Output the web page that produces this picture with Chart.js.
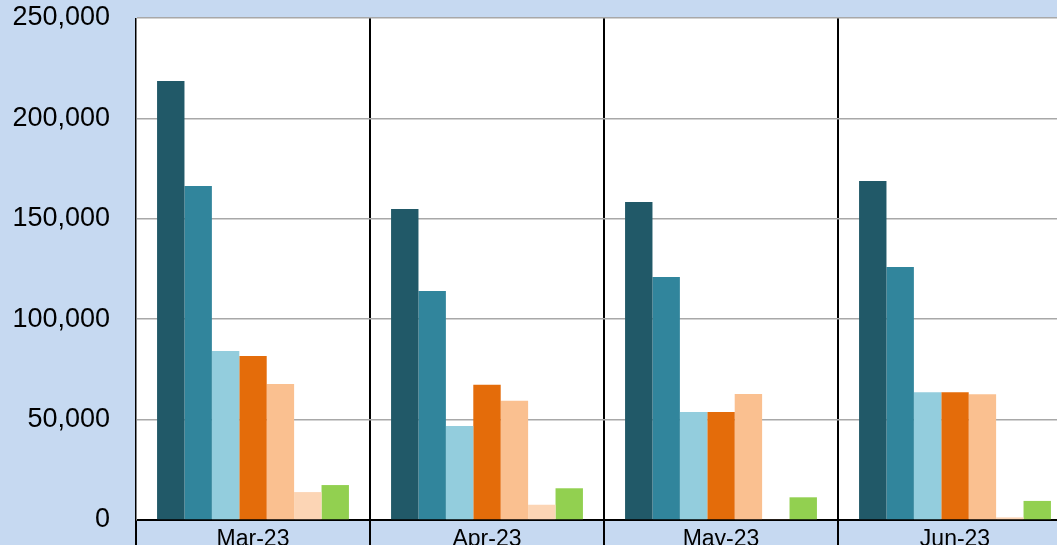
<!DOCTYPE html>
<html>
<head>
<meta charset="utf-8">
<script src="https://cdn.jsdelivr.net/npm/chart.js@4"></script>
<style>
  html, body { margin: 0; padding: 0; overflow: hidden; background: #c6d9f1; }
  #grap { position: absolute; left: 0; top: 0; }
</style>
</head>
<body>
<canvas id="grap" width="1100" height="590"></canvas>
<script>
const meses = ["Mar-23", "Apr-23", "May-23", "Jun-23"]

const serie1 = [218600, 154900, 158400, 168800]
const serie2 = [166300, 114000, 121000, 126000]
const serie3 = [84200, 46800, 53800, 63600]
const serie4 = [81700, 67400, 53800, 63600]
const serie5 = [67700, 59400, 62700, 62600]
const serie6 = [13900, 7600, 300, 1300]
const serie7 = [17400, 15800, 11300, 9500]

const cores = ["#215968", "#31859c", "#93cddd", "#e46c0a", "#fac090", "#fcd5b5", "#92d050"]
const series = [serie1, serie2, serie3, serie4, serie5, serie6, serie7]

const fundo = {
    id: 'fundo',
    beforeDraw(chart) {
        const {ctx, chartArea} = chart
        ctx.save()
        ctx.fillStyle = '#ffffff'
        ctx.fillRect(chartArea.left, chartArea.top, chartArea.right - chartArea.left, chartArea.bottom - chartArea.top)
        ctx.restore()
    }
}

function criarGraf() {
    const ctx = document.getElementById('grap').getContext('2d')

    new Chart(ctx, {
        type: 'bar',
        data: {
            labels: meses,
            datasets: series.map((s, i) => ({
                label: "Série " + (i + 1),
                data: s,
                backgroundColor: cores[i],
                borderWidth: 0,
                categoryPercentage: 0.82,
                barPercentage: 1.0
            }))
        },
        options: {
            responsive: false,
            maintainAspectRatio: false,
            animation: false,
            layout: {
                padding: { top: 18, right: 28, left: 0, bottom: 0 }
            },
            plugins: {
                legend: { display: false },
                tooltip: { enabled: false }
            },
            scales: {
                x: {
                    grid: {
                        offset: true,
                        color: '#000000',
                        lineWidth: 2,
                        drawTicks: true,
                        tickLength: 60
                    },
                    border: { color: '#000000', width: 2 },
                    ticks: {
                        color: '#000000',
                        padding: -54,
                        font: { family: "'Liberation Sans', Arial, sans-serif", size: 23 }
                    },
                    afterFit(axis) { axis.height = 70 }
                },
                y: {
                    min: 0,
                    max: 250000,
                    grid: {
                        color: '#a8a8a8',
                        lineWidth: 1.5,
                        drawTicks: false
                    },
                    border: { color: '#808080', width: 1 },
                    ticks: {
                        stepSize: 50000,
                        color: '#000000',
                        padding: 26,
                        font: { family: "'Liberation Sans', Arial, sans-serif", size: 27 },
                        callback: function (value) {
                            return value.toLocaleString('en-US')
                        }
                    },
                    afterFit(axis) {
                        axis.width = 136
                        axis.paddingTop = 0
                        axis.paddingBottom = 0
                    }
                }
            }
        },
        plugins: [fundo]
    })
}

criarGraf()
</script>
</body>
</html>
